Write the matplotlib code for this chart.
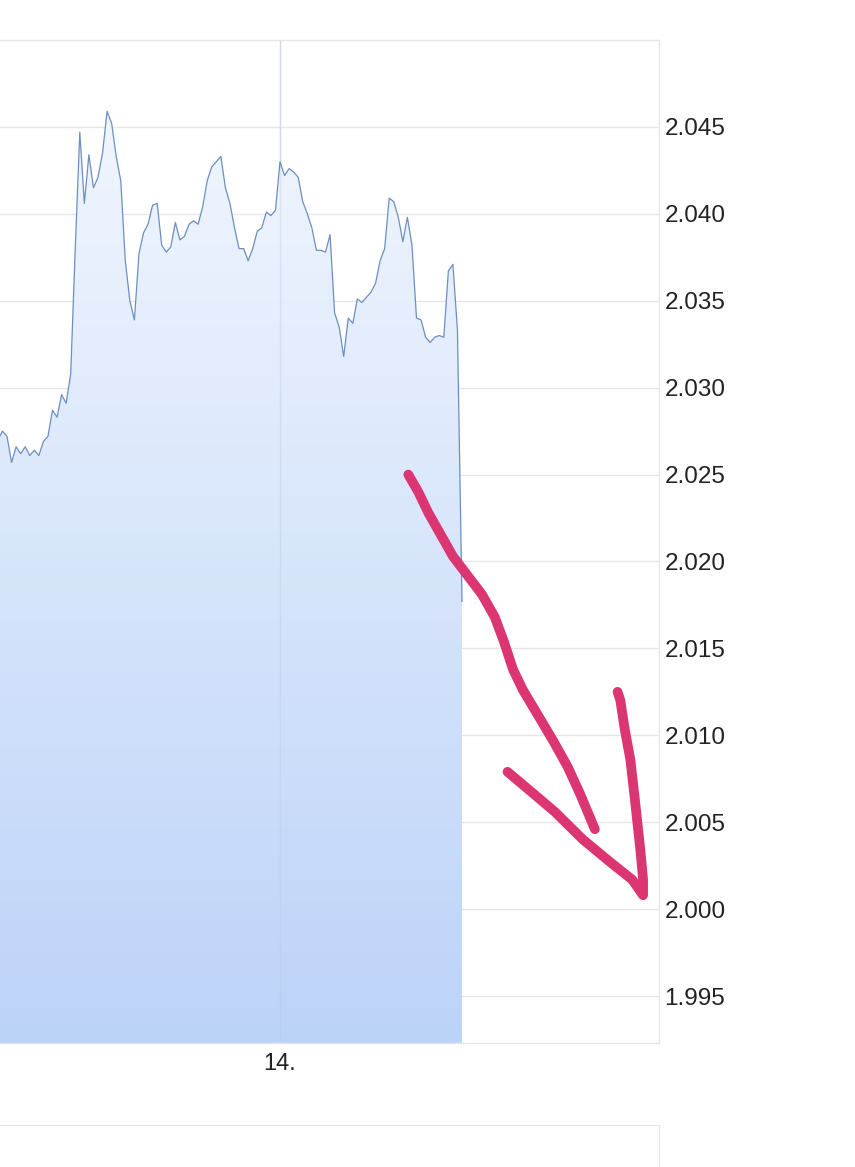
import numpy as np
import matplotlib
matplotlib.use("Agg")
import matplotlib.pyplot as plt
from matplotlib.ticker import FixedLocator

# half-hour samples, hours relative to day 14 00:00
hours = np.arange(-62, 41) * 0.5
kurs = [
    2.0270,
    2.0275, 2.0272, 2.0257, 2.0266, 2.0262, 2.0266, 2.0261, 2.0264, 2.0261, 2.0269,
    2.0272, 2.0287, 2.0283, 2.0296, 2.0291, 2.0308, 2.0380, 2.0447, 2.0406, 2.0434,
    2.0415, 2.0421, 2.0435, 2.0459, 2.0452, 2.0433, 2.0419, 2.0373, 2.0350, 2.0339,
    2.0377, 2.0389, 2.0394, 2.0405, 2.0406, 2.0382, 2.0378, 2.0381, 2.0395, 2.0385,
    2.0387, 2.0394, 2.0396, 2.0394, 2.0404, 2.0419, 2.0427, 2.0430, 2.0433, 2.0415,
    2.0406, 2.0392, 2.0380, 2.0380, 2.0373, 2.0380, 2.0390, 2.0392, 2.0401, 2.0399,
    2.0402, 2.0430, 2.0422, 2.0426, 2.0424, 2.0421, 2.0407, 2.0400, 2.0392, 2.0379,
    2.0379, 2.0378, 2.0388, 2.0343, 2.0335, 2.0318, 2.0340, 2.0337, 2.0351, 2.0349,
    2.0352, 2.0355, 2.0360, 2.0373, 2.0380, 2.0409, 2.0407, 2.0398, 2.0384, 2.0398,
    2.0382, 2.0340, 2.0339, 2.0329, 2.0326, 2.0329, 2.0330, 2.0329, 2.0367, 2.0371,
    2.0333, 2.0177,
]
y_ticks = [1.995, 2.000, 2.005, 2.010, 2.015, 2.020, 2.025, 2.030, 2.035, 2.040, 2.045]
x_ticks = [0]
x_labels = ["14."]

# hand drawn pink arrow (two strokes), in data coordinates
pfeil1_x = [14.1, 15.2, 16.3, 17.6, 19.0, 20.6, 22.2, 23.6, 24.6, 25.6, 26.7, 28.3, 30.0, 31.6, 33.0, 34.6]
pfeil1_y = [2.0250, 2.0240, 2.0228, 2.0216, 2.0203, 2.0192, 2.0181, 2.0168, 2.0154, 2.0138,
            2.0126, 2.0112, 2.0097, 2.0082, 2.0066, 2.0046]
pfeil2_x = [25.0, 27.5, 30.2, 33.3, 36.3, 38.7, 39.9, 39.9, 39.6, 39.0, 38.5, 37.9, 37.4, 37.1]
pfeil2_y = [2.0079, 2.0068, 2.0056, 2.0040, 2.0027, 2.0017, 2.0008, 2.0017, 2.0034, 2.0063,
            2.0086, 2.0103, 2.0120, 2.0125]

plt.rcParams['font.family'] = ['Liberation Sans', 'DejaVu Sans']

fig = plt.figure(figsize=(8.55, 11.67), dpi=100)
ax = fig.add_axes([0, (1167 - 1043) / 1167, 659 / 855, (1043 - 40) / 1167])

x_min, x_max = -280 / 9.1, 379 / 9.1
y_min, y_max = 1.9923, 2.0500
ax.set_xlim(x_min, x_max)
ax.set_ylim(y_min, y_max)

# gradient fill under the line
grad = np.linspace(0, 1, 256).reshape(-1, 1)
cmap = matplotlib.colors.LinearSegmentedColormap.from_list("blau", ["#bcd3f8", "#f1f6fe"])
img = ax.imshow(grad, extent=[x_min, x_max, y_min, 2.046], origin="lower", aspect="auto",
                cmap=cmap, zorder=1)
poly = ax.fill_between(hours, kurs, y_min, color="none", lw=0)
clip = poly.get_paths()[0]
img.set_clip_path(clip, transform=ax.transData)

ax.plot(hours, kurs, color="#6b8fc3", lw=0.9, zorder=3)

for v in y_ticks:
    ax.axhline(v, color="#e6e6e6", lw=1, zorder=0.5)
ax.axvline(0, color="#e3e3e3", lw=1, zorder=0.5)
ax.axvline(0, color="#b9cbe6", lw=1, alpha=0.4, zorder=2)

ax.plot(pfeil1_x, pfeil1_y, color="#db3572", lw=7, solid_capstyle="round",
        solid_joinstyle="round", clip_on=False, zorder=5)
ax.plot(pfeil2_x, pfeil2_y, color="#db3572", lw=7, solid_capstyle="round",
        solid_joinstyle="round", clip_on=False, zorder=5)

ax.yaxis.tick_right()
ax.yaxis.set_major_locator(FixedLocator(y_ticks))
ax.set_yticklabels([f"{v:.3f}" for v in y_ticks], fontsize=17.5, color="#222222")
ax.set_xticks(x_ticks)
ax.set_xticklabels(x_labels, fontsize=17, color="#222222")
ax.tick_params(axis="y", length=0, pad=4)
ax.tick_params(axis="x", length=0, pad=7)
for name, sp in ax.spines.items():
    sp.set_color("#e6e6e6")
    sp.set_linewidth(1)
ax.spines["left"].set_visible(False)

# start of the next panel, cut off at the bottom
ax2 = fig.add_axes([0, -0.05, 659 / 855, (1167 - 1125) / 1167 + 0.05])
ax2.set_xticks([])
ax2.set_yticks([])
for name, sp in ax2.spines.items():
    sp.set_color("#e6e6e6")
ax2.spines["left"].set_visible(False)

fig.savefig("out.png", dpi=100)
